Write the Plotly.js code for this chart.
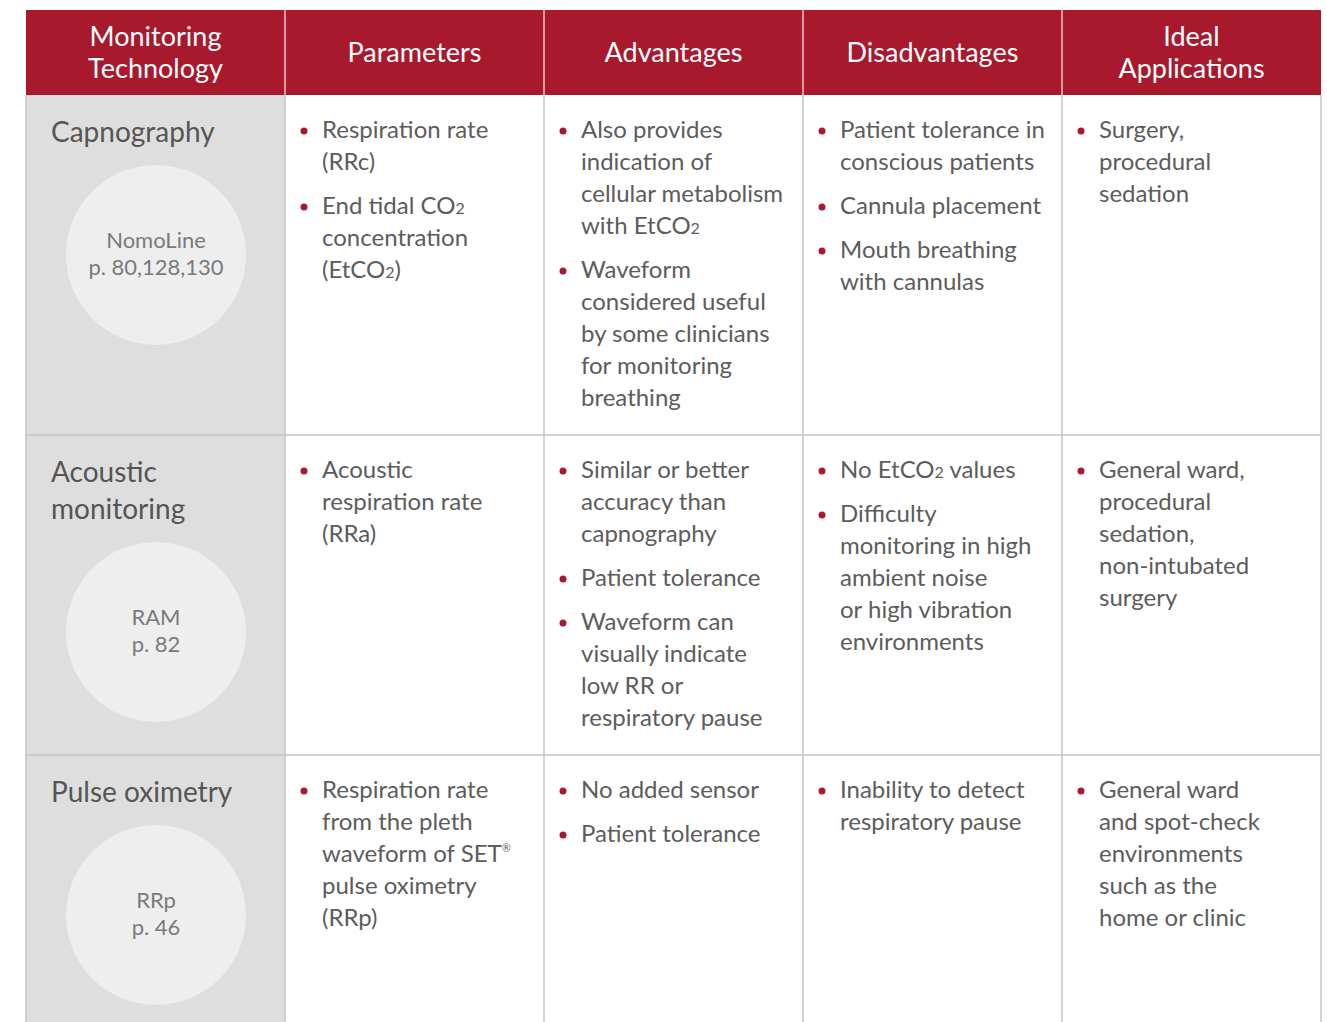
<!DOCTYPE html>
<html>
<head>
<meta charset="utf-8">
<script src="https://cdn.plot.ly/plotly-3.0.1.min.js"></script>
<style>html,body{margin:0;padding:0;background:#fff;}#chart{width:1327px;height:1022px;}</style>
</head>
<body>
<div id="chart"></div>
<script>
// ---- data ----
const headers = [["Monitoring","Technology"],["Parameters"],["Advantages"],["Disadvantages"],["Ideal","Applications"]];
const technologies = [["Capnography"],["Acoustic","monitoring"],["Pulse oximetry"]];
const references = [["NomoLine","p. 80,128,130"],["RAM","p. 82"],["RRp","p. 46"]];
const sub2 = '<span style="font-size:16px">2</span>';
const reg = '<sup><span style="font-size:11px">®</span></sup>';
const parameters = [
  [["Respiration rate","(RRc)"],["End tidal CO"+sub2,"concentration","(EtCO"+sub2+")"]],
  [["Acoustic","respiration rate","(RRa)"]],
  [["Respiration rate","from the pleth","waveform of SET"+reg,"pulse oximetry","(RRp)"]]
];
const advantages = [
  [["Also provides","indication of","cellular metabolism","with EtCO"+sub2],["Waveform","considered useful","by some clinicians","for monitoring","breathing"]],
  [["Similar or better","accuracy than","capnography"],["Patient tolerance"],["Waveform can","visually indicate","low RR or","respiratory pause"]],
  [["No added sensor"],["Patient tolerance"]]
];
const disadvantages = [
  [["Patient tolerance in","conscious patients"],["Cannula placement"],["Mouth breathing","with cannulas"]],
  [["No EtCO"+sub2+" values"],["Difficulty","monitoring in high","ambient noise","or high vibration","environments"]],
  [["Inability to detect","respiratory pause"]]
];
const applications = [
  [["Surgery,","procedural","sedation"]],
  [["General ward,","procedural","sedation,","non-intubated","surgery"]],
  [["General ward","and spot-check","environments","such as the","home or clinic"]]
];
const bodyColumns = [parameters, advantages, disadvantages, applications];

// ---- geometry / style ----
const W = 1327, H = 1022;
const X0 = 26, COLW = 259, NCOL = 5;
const HEAD_TOP = 10, HEAD_BOT = 95;
const rowTops = [95, 435, 755, 1040];
const RED = '#A8192E', TXT = '#5c5c5c', GRID = '#c4c4c4';
const FONT = 'Lato, "Noto Sans", sans-serif';
const LINE = 32, ITEM_GAP = 12, BODY_FS = 24;

const shapes = [], traces = [];
const colL = i => X0 + i * COLW;

// header
shapes.push({type:'rect', xref:'x', yref:'y', x0:colL(0), x1:colL(NCOL), y0:HEAD_TOP, y1:HEAD_BOT, fillcolor:RED, line:{width:0}, layer:'below'});
// first column grey
shapes.push({type:'rect', xref:'x', yref:'y', x0:colL(0), x1:colL(1), y0:HEAD_BOT, y1:H+20, fillcolor:'#dedede', line:{width:0}, layer:'below'});
// header separators
for (let i = 1; i < NCOL; i++) {
  shapes.push({type:'line', xref:'x', yref:'y', x0:colL(i), x1:colL(i), y0:HEAD_TOP, y1:HEAD_BOT, line:{color:'#e8c4c9', width:1.5}});
}
// body vertical lines
for (let i = 0; i <= NCOL; i++) {
  shapes.push({type:'line', xref:'x', yref:'y', x0:colL(i), x1:colL(i), y0:HEAD_BOT, y1:H+20, line:{color:GRID, width:1.5}});
}
// row separators
for (let r = 1; r < 3; r++) {
  shapes.push({type:'line', xref:'x', yref:'y', x0:colL(0), x1:colL(NCOL), y0:rowTops[r], y1:rowTops[r], line:{color:GRID, width:1.5}});
}

// header text
const hx = [], hy = [], ht = [];
headers.forEach((lines, i) => {
  const cy = (HEAD_TOP + HEAD_BOT) / 2 + 3;
  lines.forEach((t, j) => {
    hx.push(colL(i) + COLW / 2);
    hy.push(cy + (j - (lines.length - 1) / 2) * LINE);
    ht.push(t);
  });
});
traces.push({type:'scatter', mode:'text', x:hx, y:hy, text:ht, textposition:'middle center',
  textfont:{family:FONT, size:27, color:'#ffffff'}, hoverinfo:'skip', showlegend:false, cliponaxis:false});

// technology names & circles
const tx = [], ty = [], tt = [], rx = [], ry = [], rt = [];
technologies.forEach((lines, r) => {
  lines.forEach((t, j) => { tx.push(colL(0) + 25); ty.push(rowTops[r] + 40 + j * 37); tt.push(t); });
  const cy = rowTops[r] + 123 + lines.length * 37;
  const cx = colL(0) + 130;
  shapes.push({type:'circle', xref:'x', yref:'y', x0:cx - 90, x1:cx + 90, y0:cy - 90, y1:cy + 90, fillcolor:'#eeeeee', line:{width:0}, layer:'below'});
  references[r].forEach((t, j) => { rx.push(cx); ry.push(cy - 13 + j * 27); rt.push(t); });
});
traces.push({type:'scatter', mode:'text', x:tx, y:ty, text:tt, textposition:'middle right',
  textfont:{family:FONT, size:28, color:'#555555'}, hoverinfo:'skip', showlegend:false, cliponaxis:false});
traces.push({type:'scatter', mode:'text', x:rx, y:ry, text:rt, textposition:'middle center',
  textfont:{family:FONT, size:22, color:'#7a7a7a'}, hoverinfo:'skip', showlegend:false, cliponaxis:false});

// body bullets
const bx = [], by = [], bt = [], dx = [], dy = [];
bodyColumns.forEach((col, c) => {
  col.forEach((items, r) => {
    let y = rowTops[r] + 37;
    items.forEach(lines => {
      dx.push(colL(c + 1) + 19); dy.push(y - 1);
      lines.forEach(t => { bx.push(colL(c + 1) + 37); by.push(y); bt.push(t); y += LINE; });
      y += ITEM_GAP;
    });
  });
});
traces.push({type:'scatter', mode:'text', x:bx, y:by, text:bt, textposition:'middle right',
  textfont:{family:FONT, size:BODY_FS, color:TXT}, hoverinfo:'skip', showlegend:false, cliponaxis:false});
traces.push({type:'scatter', mode:'markers', x:dx, y:dy, marker:{color:RED, size:7},
  hoverinfo:'skip', showlegend:false, cliponaxis:false});

const layout = {
  width:W, height:H, margin:{l:0, r:0, t:0, b:0},
  paper_bgcolor:'#ffffff', plot_bgcolor:'#ffffff',
  xaxis:{range:[0, W], visible:false, fixedrange:true},
  yaxis:{range:[H, 0], visible:false, fixedrange:true},
  shapes:shapes, showlegend:false
};
Plotly.newPlot('chart', traces, layout, {staticPlot:true, displayModeBar:false});
</script>
</body>
</html>
